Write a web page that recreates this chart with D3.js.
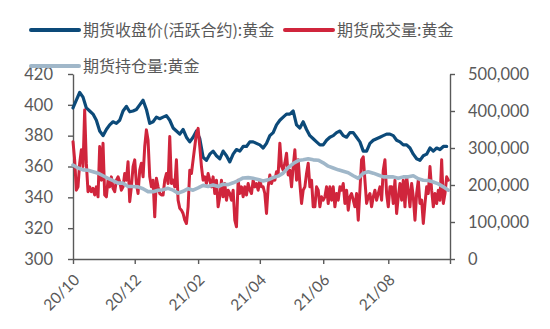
<!DOCTYPE html>
<html>
<head>
<meta charset="utf-8">
<script src="https://cdn.jsdelivr.net/npm/d3@7"></script>
<style>
  html, body { margin: 0; padding: 0; background: #fff; }
  svg { display: block; font-family: Lato, "Noto Sans CJK SC", sans-serif; }
</style>
</head>
<body>
<svg id="chart" width="550" height="329"></svg>
<script>
// Gold futures: active-contract close (left axis), volume and open interest (right axis)
const seriesNames = ["期货收盘价(活跃合约):黄金", "期货成交量:黄金", "期货持仓量:黄金"];

// Close price, sampled every 2nd trading day
const closePrice = [
  398,403,408,405,398,396,394,390,383,380,384,387,389,388,390,396,399,395.5,396,397,
  400,403,397,388,389,392,391,392,393,390,385,383,381,384,379,376,379,383,378,366,
  364,368,370,367,365,370,367,363,368,371,370,373,373,376,376,375,374,372,375,380,
  382,387,390,392,394,394,396,387,385,389,384,380,378,376,374,374,377,379,380,382,
  383,380,379,382,382,379,376,370,370,375,377,378,379,380,381,381,380,377,376,374,
  374,372,368,365,364,367,368,372,370,372,371,373,373
];

// Daily traded volume (contracts)
const volume = [
  317000,268000,186000,195000,259000,295000,250000,403000,259000,182000,
  195000,182000,191000,173000,195000,168000,304000,213000,313000,173000,
  168000,213000,195000,222000,191000,182000,213000,222000,209000,186000,
  195000,231000,213000,263000,155000,195000,250000,268000,204000,177000,
  240000,259000,222000,304000,349000,321000,222000,195000,213000,114000,
  218000,195000,177000,173000,173000,213000,231000,204000,331000,204000,
  213000,195000,268000,159000,137000,132000,123000,105000,96000,141000,
  240000,231000,268000,304000,340000,353000,304000,250000,213000,222000,
  204000,231000,213000,195000,222000,177000,213000,141000,168000,213000,
  168000,204000,159000,186000,177000,159000,186000,105000,87000,213000,
  177000,195000,168000,195000,173000,204000,186000,177000,213000,195000,
  204000,186000,213000,195000,195000,177000,123000,195000,227000,204000,
  218000,213000,236000,231000,313000,250000,240000,259000,286000,227000,
  240000,195000,250000,295000,213000,268000,204000,150000,186000,195000,
  231000,259000,195000,213000,141000,141000,195000,186000,141000,168000,
  159000,168000,195000,150000,195000,159000,195000,141000,177000,159000,
  195000,186000,204000,150000,186000,132000,168000,177000,159000,141000,
  177000,105000,186000,268000,276000,213000,150000,168000,177000,141000,
  168000,186000,159000,177000,195000,159000,240000,268000,177000,141000,
  195000,195000,150000,213000,123000,168000,204000,159000,213000,141000,
  222000,186000,141000,204000,168000,105000,177000,213000,150000,159000,
  96000,150000,195000,177000,250000,186000,141000,177000,150000,186000,
  159000,268000,150000,177000,222000,213000
];

// Open interest (contracts), sampled every 3rd trading day
const openInterest = [
  254000,246000,241000,240000,236000,232000,225000,218000,212000,205000,
  205000,196000,196000,195000,190000,182000,182000,186000,187000,191000,
  186000,178000,183000,190000,186000,192000,199000,196000,200000,196000,
  202000,201000,206000,212000,219000,220000,218000,215000,211000,214000,
  220000,224000,232000,247000,258000,266000,268000,271000,268000,267000,
  260000,251000,246000,241000,237000,233000,225000,218000,232000,236000,
  232000,227000,222000,222000,222000,218000,222000,222000,225000,217000,
  213000,212000,208000,203000,195000,186000
];

// Trading-day index at each labelled month start
const monthTickIndex = [0, 37, 75, 112, 150, 189, 226];
const monthTickLabels = ["20/10", "20/12", "21/02", "21/04", "21/06", "21/08", ""];
const leftTicks = [300, 320, 340, 360, 380, 400, 420];
const rightTicks = [0, 100000, 200000, 300000, 400000, 500000];

const colors = { close: "#0C4A79", volume: "#D0253C", oi: "#A0B7C9", axis: "#595959", text: "#595959" };

const svg = d3.select("#chart");
const plot = { left: 73, right: 450, top: 74, bottom: 259 };

const x = d3.scaleLinear().domain([0, 226]).range([plot.left, plot.right]);
const yLeft = d3.scaleLinear().domain([300, 420]).range([plot.bottom, plot.top]);
const yRight = d3.scaleLinear().domain([0, 500000]).range([plot.bottom, plot.top]);

function styleAxis(g) {
  g.selectAll("path.domain").attr("stroke", colors.axis).attr("stroke-width", 1.4);
  g.selectAll(".tick line").attr("stroke", colors.axis).attr("stroke-width", 1.4);
  g.selectAll(".tick text").attr("fill", colors.text).style("font-size", "16.5px").style("font-family", "Lato, sans-serif");
}

// Left axis
svg.append("g")
  .attr("transform", `translate(${plot.left},0)`)
  .call(d3.axisLeft(yLeft).tickValues(leftTicks).tickSize(5).tickSizeOuter(0).tickPadding(15))
  .call(styleAxis);

// Right axis
svg.append("g")
  .attr("transform", `translate(${plot.right},0)`)
  .call(d3.axisRight(yRight).tickValues(rightTicks).tickSize(5).tickSizeOuter(0).tickPadding(13)
    .tickFormat(d3.format(",")))
  .call(styleAxis);

// Bottom axis with rotated month labels
const xAxisG = svg.append("g")
  .attr("transform", `translate(0,${plot.bottom})`)
  .call(d3.axisBottom(x).tickValues(monthTickIndex).tickSize(5).tickSizeOuter(0)
    .tickFormat((d, i) => monthTickLabels[i]))
  .call(styleAxis);
xAxisG.selectAll(".tick text")
  .style("font-size", "15.5px")
  .attr("x", 0).attr("y", 0).attr("dy", 0)
  .attr("text-anchor", "end")
  .attr("transform", "translate(7,22) rotate(-45)");

// Series lines: close on left axis, then volume and open interest on right axis
const lineFor = (scale, step) => d3.line()
  .x((d, i) => x(i * step))
  .y(d => scale(d))
  .curve(d3.curveLinear);

svg.append("path").datum(closePrice)
  .attr("d", lineFor(yLeft, 2))
  .attr("fill", "none").attr("stroke", colors.close).attr("stroke-width", 3.2)
  .attr("stroke-linejoin", "round").attr("stroke-linecap", "round");

svg.append("path").datum(volume)
  .attr("d", lineFor(yRight, 1))
  .attr("fill", "none").attr("stroke", colors.volume).attr("stroke-width", 3)
  .attr("stroke-linejoin", "round").attr("stroke-linecap", "round");

svg.append("path").datum(openInterest)
  .attr("d", lineFor(yRight, 3))
  .attr("fill", "none").attr("stroke", colors.oi).attr("stroke-width", 3.6)
  .attr("stroke-linejoin", "round").attr("stroke-linecap", "round");

// Legend
const legendItems = [
  { name: seriesNames[0], color: colors.close, x: 31, y: 30 },
  { name: seriesNames[1], color: colors.volume, x: 285, y: 30 },
  { name: seriesNames[2], color: colors.oi, x: 31, y: 66 }
];
const legend = svg.append("g").selectAll("g").data(legendItems).join("g")
  .attr("transform", d => `translate(${d.x},${d.y})`);
legend.append("line")
  .attr("x1", 0).attr("x2", 48).attr("y1", 0).attr("y2", 0)
  .attr("stroke", d => d.color).attr("stroke-width", 4).attr("stroke-linecap", "round");
legend.append("text")
  .attr("x", 52).attr("y", 0).attr("dy", "0.36em")
  .attr("fill", colors.text)
  .style("font-family", "'Noto Sans CJK SC', sans-serif")
  .style("font-size", "16px")
  .text(d => d.name);
</script>
</body>
</html>
